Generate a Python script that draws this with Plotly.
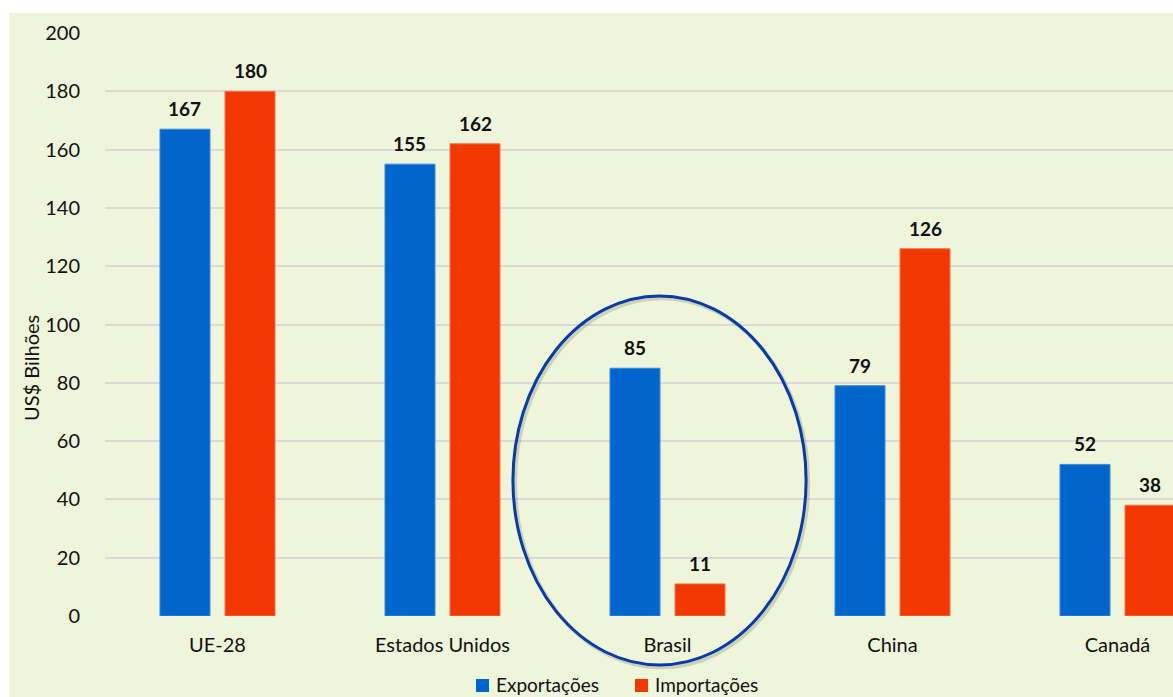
import plotly.graph_objects as go

# Trade values by partner (US$ billions)
categories = ["UE-28", "Estados Unidos", "Brasil", "China", "Canadá"]
exportacoes = [167, 155, 85, 79, 52]
importacoes = [180, 162, 11, 126, 38]
y_ticks = [0, 20, 40, 60, 80, 100, 120, 140, 160, 180, 200]

BLUE = "#0066CC"
ORANGE = "#F03800"
BG = "#EEF5DA"
TXT = "#111111"
FONT = "Lato"

W, H = 1173, 697
ML, MT, MB = 105, 33, 81
PW, PH = W - ML, H - MT - MB

X_RANGE = [-0.5, -0.5 + PW / 225]
Y_RANGE = [0, 200]
BARGAP, GROUPGAP = 0.422, 0.231
# centre offset of each bar inside its group, in category units
OFFSET = (1 - BARGAP) / 4


def px(xv):
    """Category-axis value -> paper x."""
    return (xv - X_RANGE[0]) / (X_RANGE[1] - X_RANGE[0])


def py(yv):
    """Value-axis value -> paper y."""
    return (yv - Y_RANGE[0]) / (Y_RANGE[1] - Y_RANGE[0])


def pix_x(p):
    return (p - ML) / PW


def pix_y(p):
    return (H - MB - p) / PH


fig = go.Figure()
fig.add_trace(go.Bar(
    name="Exportações", x=categories, y=exportacoes,
    marker=dict(color=BLUE, line=dict(color="#3D8AD8", width=1)),
))
fig.add_trace(go.Bar(
    name="Importações", x=categories, y=importacoes,
    marker=dict(color=ORANGE, line=dict(color="#F7754A", width=1)),
))

# Value labels above each bar
for series, off in ((exportacoes, -OFFSET), (importacoes, OFFSET)):
    for i, v in enumerate(series):
        fig.add_annotation(x=i + off, y=v, text=f"<b>{v}</b>", showarrow=False,
                           yanchor="bottom", yshift=7,
                           font=dict(family=FONT, size=19, color=TXT))

# Background panel (leaves a thin white border on top and left)
fig.add_shape(type="rect", xref="paper", yref="paper",
              x0=pix_x(9), x1=pix_x(W + 10), y0=pix_y(H + 10), y1=pix_y(13),
              fillcolor=BG, line=dict(width=0), layer="below")

# Highlight ellipse around Brasil, with a soft shadow
ex0, ex1, ey0, ey1 = 1.313, 2.616, -16.8, 109.8
fig.add_shape(type="circle", xref="paper", yref="paper",
              x0=px(ex0) + 0.002, x1=px(ex1) + 0.002,
              y0=py(ey0) - 0.004, y1=py(ey1) - 0.004,
              line=dict(color="rgba(80,90,60,0.22)", width=4))
fig.add_shape(type="circle", xref="paper", yref="paper",
              x0=px(ex0), x1=px(ex1), y0=py(ey0), y1=py(ey1),
              line=dict(color="#0A3AA8", width=3))

# Axis title
fig.add_annotation(text="US$ Bilhões", xref="paper", yref="paper",
                   x=pix_x(31), y=pix_y(368), textangle=-90, showarrow=False,
                   xanchor="center", yanchor="middle",
                   font=dict(family=FONT, size=20, color=TXT))

# Legend drawn as swatches + labels along the bottom edge
legend_items = [("Exportações", BLUE, 476), ("Importações", ORANGE, 635)]
for label, color, left in legend_items:
    fig.add_shape(type="rect", xref="paper", yref="paper",
                  x0=pix_x(left), x1=pix_x(left + 13),
                  y0=pix_y(692), y1=pix_y(679),
                  fillcolor=color, line=dict(width=0))
    fig.add_annotation(text=label, xref="paper", yref="paper",
                       x=pix_x(left + 18), y=pix_y(684), xanchor="left",
                       yanchor="middle", showarrow=False,
                       font=dict(family=FONT, size=19, color=TXT))

fig.update_layout(
    width=W, height=H,
    margin=dict(l=ML, r=0, t=MT, b=MB),
    paper_bgcolor="white", plot_bgcolor="rgba(0,0,0,0)",
    barmode="group", bargap=BARGAP, bargroupgap=GROUPGAP,
    font=dict(family=FONT, size=20, color=TXT),
    showlegend=False,
    xaxis=dict(range=X_RANGE, showgrid=False, zeroline=False, showline=False,
               ticks="", ticklabelstandoff=15, automargin=False,
               tickfont=dict(family=FONT, size=20, color=TXT)),
    yaxis=dict(range=Y_RANGE, tickvals=y_ticks, showgrid=True,
               gridcolor="#D9D9D9", gridwidth=1.5, zeroline=False,
               showline=False, ticklabelstandoff=24, automargin=False,
               tickfont=dict(family=FONT, size=20, color=TXT)),
)

fig.write_html("out.html")
